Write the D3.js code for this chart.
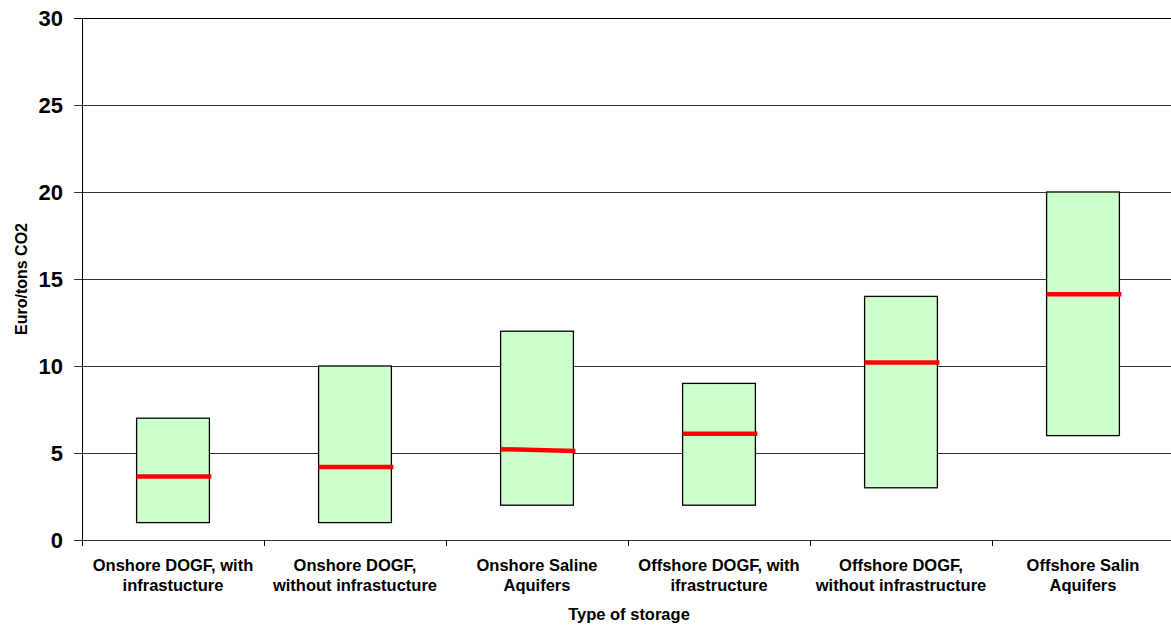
<!DOCTYPE html>
<html>
<head>
<meta charset="utf-8">
<script src="https://cdn.jsdelivr.net/npm/d3@7"></script>
<style>
    body { margin: 0; background: #fff; }
    text { font-family: "Liberation Sans", Arial, sans-serif; font-weight: bold; fill: #000; }
</style>
</head>
<body>
<div id="chart"></div>
<script>
// categories, split into two label lines
const categories = [
    ["Onshore DOGF, with", "infrastucture"],
    ["Onshore DOGF,", "without infrastucture"],
    ["Onshore Saline", "Aquifers"],
    ["Offshore DOGF, with", "ifrastructure"],
    ["Offshore DOGF,", "without infrastructure"],
    ["Offshore Salin", "Aquifers"]
];
const lowValues = [1, 1, 2, 2, 3, 6];
const highValues = [7, 10, 12, 9, 14, 20];
// median line: value at left end, value at right end
const midLeft = [3.65, 4.2, 5.22, 6.1, 10.2, 14.13];
const midRight = [3.65, 4.2, 5.12, 6.1, 10.2, 14.13];
const yTicks = [0, 5, 10, 15, 20, 25, 30];

const width = 1171, height = 625;
const margin = { top: 18, right: -3, bottom: 85, left: 82 };

const svg = d3.select("#chart").append("svg")
    .attr("width", width)
    .attr("height", height);

const x = d3.scaleBand()
    .domain(d3.range(categories.length))
    .range([margin.left, width - margin.right])
    .paddingInner(0)
    .paddingOuter(0);

const y = d3.scaleLinear()
    .domain([0, 30])
    .range([height - margin.bottom, margin.top]);

// gridlines
svg.append("g")
    .selectAll("line")
    .data(yTicks)
    .enter().append("line")
    .attr("x1", margin.left - 8)
    .attr("x2", width)
    .attr("y1", d => Math.round(y(d)) + 0.5)
    .attr("y2", d => Math.round(y(d)) + 0.5)
    .attr("stroke", d => d === 30 ? "#000" : "#333")
    .attr("stroke-width", 1);

// y axis line
svg.append("line")
    .attr("x1", margin.left + 0.5).attr("x2", margin.left + 0.5)
    .attr("y1", y(30)).attr("y2", y(0))
    .attr("stroke", "#000");

// x axis ticks at band edges
const edges = d3.range(categories.length + 1).map(i => margin.left + i * x.bandwidth());
svg.append("g")
    .selectAll("line")
    .data(edges)
    .enter().append("line")
    .attr("x1", d => Math.round(d) + 0.5)
    .attr("x2", d => Math.round(d) + 0.5)
    .attr("y1", Math.round(y(0)))
    .attr("y2", Math.round(y(0)) + 6)
    .attr("stroke", "#000");

// y tick labels
svg.append("g")
    .selectAll("text")
    .data(yTicks)
    .enter().append("text")
    .attr("x", 63)
    .attr("y", d => y(d))
    .attr("dy", "0.36em")
    .attr("text-anchor", "end")
    .style("font-size", "22px")
    .text(d => d);

// boxes
const boxW = x.bandwidth() * 0.4;
svg.append("g")
    .selectAll("rect")
    .data(categories.map((c, i) => i))
    .enter().append("rect")
    .attr("x", i => x(i) + (x.bandwidth() - boxW) / 2)
    .attr("y", i => y(highValues[i]))
    .attr("width", boxW)
    .attr("height", i => y(lowValues[i]) - y(highValues[i]))
    .attr("fill", "#ccffcc")
    .attr("stroke", "#000")
    .attr("stroke-width", 1.3);

// median lines
svg.append("g")
    .selectAll("line")
    .data(categories.map((c, i) => i))
    .enter().append("line")
    .attr("x1", i => x(i) + (x.bandwidth() - boxW) / 2)
    .attr("x2", i => x(i) + (x.bandwidth() + boxW) / 2 + 2)
    .attr("y1", i => y(midLeft[i]))
    .attr("y2", i => y(midRight[i]))
    .attr("stroke", "#ff0000")
    .attr("stroke-width", 4.5);

// x category labels
const xl = svg.append("g")
    .selectAll("text")
    .data(categories)
    .enter().append("text")
    .attr("x", (d, i) => x(i) + x.bandwidth() / 2)
    .attr("y", 571)
    .attr("text-anchor", "middle")
    .style("font-size", "16.5px");
xl.append("tspan")
    .attr("x", (d, i) => x(i) + x.bandwidth() / 2)
    .text(d => d[0]);
xl.append("tspan")
    .attr("x", (d, i) => x(i) + x.bandwidth() / 2)
    .attr("dy", 20)
    .text(d => d[1]);

// axis titles
svg.append("text")
    .attr("x", 629)
    .attr("y", 620)
    .attr("text-anchor", "middle")
    .style("font-size", "16.5px")
    .text("Type of storage");

svg.append("text")
    .attr("transform", `translate(27, ${y(15)}) rotate(-90)`)
    .attr("text-anchor", "middle")
    .style("font-size", "16px")
    .text("Euro/tons CO2");
</script>
</body>
</html>
